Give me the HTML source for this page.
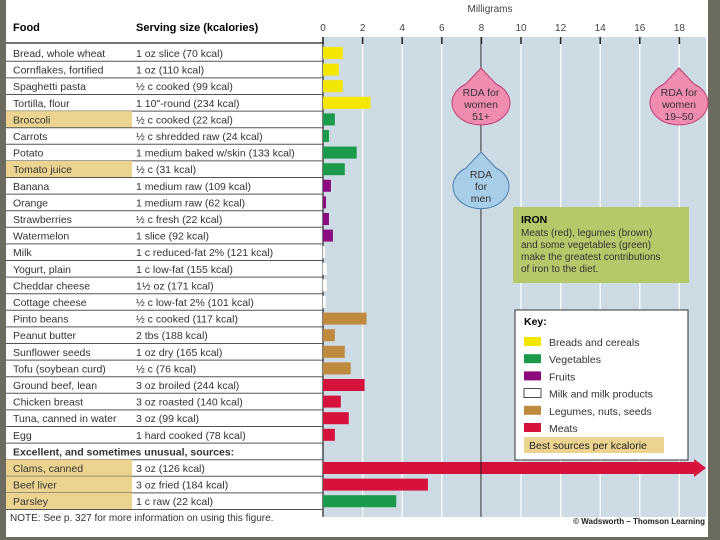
<!DOCTYPE html>
<html><head><meta charset="utf-8"><style>
body{margin:0;background:#6b6b60;}
svg{display:block;font-family:"Liberation Sans",sans-serif;}
</style></head><body>
<svg id="c" width="720" height="540">
<rect x="0" y="0" width="720" height="540" fill="#6b6b60"/>
<rect x="6" y="0" width="702" height="537" fill="#ffffff"/>
<rect x="323" y="37" width="383" height="480" fill="#cddbe5"/>
<text x="490" y="12" font-size="10" fill="#444" text-anchor="middle">Milligrams</text>
<text x="13" y="31" font-size="11" font-weight="bold">Food</text>
<text x="136" y="31" font-size="11" font-weight="bold">Serving size (kcalories)</text>
<g id="grid"></g><g id="rows"></g><g id="bars"></g>
<line x1="481" y1="37" x2="481" y2="517" stroke="#222" stroke-width="1"/>
<g>
<path d="M481,68 L496,84 A29,22 0 1 1 466,84 Z" fill="#f08cb0" stroke="#c04070"/>
<text x="481" y="96" font-size="10.5" text-anchor="middle" fill="#333">RDA for</text>
<text x="481" y="108" font-size="10.5" text-anchor="middle" fill="#333">women</text>
<text x="481" y="120" font-size="10.5" text-anchor="middle" fill="#333">51+</text></g>
<g>
<path d="M679,68 L694,84 A29,22 0 1 1 664,84 Z" fill="#f08cb0" stroke="#c04070"/>
<text x="679" y="96" font-size="10.5" text-anchor="middle" fill="#333">RDA for</text>
<text x="679" y="108" font-size="10.5" text-anchor="middle" fill="#333">women</text>
<text x="679" y="120" font-size="10.5" text-anchor="middle" fill="#333">19–50</text></g>
<g>
<path d="M481,152 L496,168 A28,22 0 1 1 466,168 Z" fill="#a8cde8" stroke="#4a80b0"/>
<text x="481" y="178" font-size="10.5" text-anchor="middle" fill="#333">RDA</text>
<text x="481" y="190" font-size="10.5" text-anchor="middle" fill="#333">for</text>
<text x="481" y="202" font-size="10.5" text-anchor="middle" fill="#333">men</text></g>
<g>
<rect x="513" y="207" width="176" height="76" fill="#b5c96a"/>
<text x="521" y="223" font-size="10.5" font-weight="bold">IRON</text>
<text x="521" y="236" font-size="10" fill="#333">Meats (red), legumes (brown)</text>
<text x="521" y="248" font-size="10" fill="#333">and some vegetables (green)</text>
<text x="521" y="260" font-size="10" fill="#333">make the greatest contributions</text>
<text x="521" y="272" font-size="10" fill="#333">of iron to the diet.</text></g>
<g>
<rect x="515" y="310" width="173" height="150" fill="#fff" stroke="#333"/>
<text x="524" y="325" font-size="10.5" font-weight="bold">Key:</text>
<g id="legend"></g>
<rect x="524" y="437" width="140" height="16" fill="#ecd490"/>
<text x="529" y="449" font-size="10.5" fill="#222">Best sources per kcalorie</text></g>
<text x="10" y="521" font-size="10" fill="#333">NOTE: See p. 327 for more information on using this figure.</text>
<text x="705" y="524" font-size="8" font-weight="bold" text-anchor="end" fill="#222">© Wadsworth – Thomson Learning</text>
</svg>
<script>
const foods=["Bread, whole wheat","Cornflakes, fortified","Spaghetti pasta","Tortilla, flour","Broccoli","Carrots","Potato","Tomato juice","Banana","Orange","Strawberries","Watermelon","Milk","Yogurt, plain","Cheddar cheese","Cottage cheese","Pinto beans","Peanut butter","Sunflower seeds","Tofu (soybean curd)","Ground beef, lean","Chicken breast","Tuna, canned in water","Egg","Excellent, and sometimes unusual, sources:","Clams, canned","Beef liver","Parsley"];
const servings=["1 oz slice (70 kcal)","1 oz (110 kcal)","½ c cooked (99 kcal)","1 10\"-round (234 kcal)","½ c cooked (22 kcal)","½ c shredded raw (24 kcal)","1 medium baked w/skin (133 kcal)","½ c (31 kcal)","1 medium raw (109 kcal)","1 medium raw (62 kcal)","½ c fresh (22 kcal)","1 slice (92 kcal)","1 c reduced-fat 2% (121 kcal)","1 c low-fat (155 kcal)","1½ oz (171 kcal)","½ c low-fat 2% (101 kcal)","½ c cooked (117 kcal)","2 tbs (188 kcal)","1 oz dry (165 kcal)","½ c (76 kcal)","3 oz broiled (244 kcal)","3 oz roasted (140 kcal)","3 oz (99 kcal)","1 hard cooked (78 kcal)","","3 oz (126 kcal)","3 oz fried (184 kcal)","1 c raw (22 kcal)"];
const ironMg=[1.0,0.8,1.0,2.4,0.6,0.3,1.7,1.1,0.4,0.15,0.3,0.5,0.1,0.2,0.2,0.15,2.2,0.6,1.1,1.4,2.1,0.9,1.3,0.6,null,24,5.3,3.7];
const groups=["b","b","b","b","v","v","v","v","f","f","f","f","m","m","m","m","l","l","l","l","t","t","t","t","","t","t","v"];
const best=[4,7,25,26,27];
const ticks=[0,2,4,6,8,10,12,14,16,18];
const legendLabels=["Breads and cereals","Vegetables","Fruits","Milk and milk products","Legumes, nuts, seeds","Meats"];
const legendKeys=["b","v","f","m","l","t"];
const colors={b:"#f5e600",v:"#1a9a4a",f:"#8b0a7e",m:"#ffffff",l:"#c08a3e",t:"#d4123c"};
const NS="http://www.w3.org/2000/svg";
const x0=323,pxPerMg=19.8,xMax=706;
function xs(v){return x0+v*pxPerMg;}
function ys(i){return 53+i*16.6;}
function mk(t,a,p){const e=document.createElementNS(NS,t);for(const k in a)e.setAttribute(k,a[k]);p.appendChild(e);return e;}
const grid=document.getElementById('grid'),rows=document.getElementById('rows'),bars=document.getElementById('bars'),leg=document.getElementById('legend');
ticks.forEach(t=>{
 const l=mk('line',{x1:xs(t),x2:xs(t),y1:37,y2:517,stroke:t===0?'#222':'#fff','stroke-width':1.2},grid);
 
 
 const tk=mk('line',{x1:xs(t),x2:xs(t),y1:37,y2:44,stroke:'#222','stroke-width':1.5},grid);
 
 
 const tx=mk('text',{x:xs(t),y:31,'font-size':10,'text-anchor':'middle',fill:'#444'},grid);
 tx.textContent=t;
 
 
});
mk('line',{x1:6,x2:323,y1:43,y2:43,stroke:'#222','stroke-width':1.2},rows);
foods.forEach((f,i)=>{
 const y=ys(i);
 if(best.includes(i)){const h=mk('rect',{x:6,y:y-8.3,width:126,height:16.6,fill:'#ecd490'},rows);
  
  }
 const ln=mk('line',{x1:6,x2:323,y1:y+8.3,y2:y+8.3,stroke:'#555','stroke-width':1},rows);
 
 
 const t=mk('text',{x:13,y:y+4,'font-size':10.5,'font-weight':i===24?'bold':'normal',fill:'#333'},rows);
 t.textContent=f;
 
 
 if(servings[i]){const s=mk('text',{x:136,y:y+4,'font-size':10.5,fill:'#333'},rows);
  s.textContent=servings[i];
  
  }
 const v=ironMg[i];
 if(v!==null){
  const g=groups[i],xe=xs(v);
  if(xe>xMax-12){
   const a=mk('path',{d:`M${x0},${y-6}L${xMax-12},${y-6}L${xMax-12},${y-9}L${xMax},${y}L${xMax-12},${y+9}L${xMax-12},${y+6}L${x0},${y+6}Z`,fill:colors[g]},bars);
   
   
  }else{
   const b=mk('rect',{x:x0,y:y-6,width:xe-x0,height:12,fill:colors[g],stroke:g==='m'?'#ddd':'none','stroke-width':0.5},bars);
   
   
  }
 }
});
legendLabels.forEach((lb,i)=>{
 const y=342+i*17.2;
 const r=mk('rect',{x:524,y:y-5,width:17,height:9,fill:colors[legendKeys[i]],stroke:legendKeys[i]==='m'?'#222':'none','stroke-width':0.8},leg);
 
 
 const t=mk('text',{x:549,y:y+4,'font-size':10.5,fill:'#333'},leg);
 t.textContent=lb;
 
 
});
</script>
</body></html>
